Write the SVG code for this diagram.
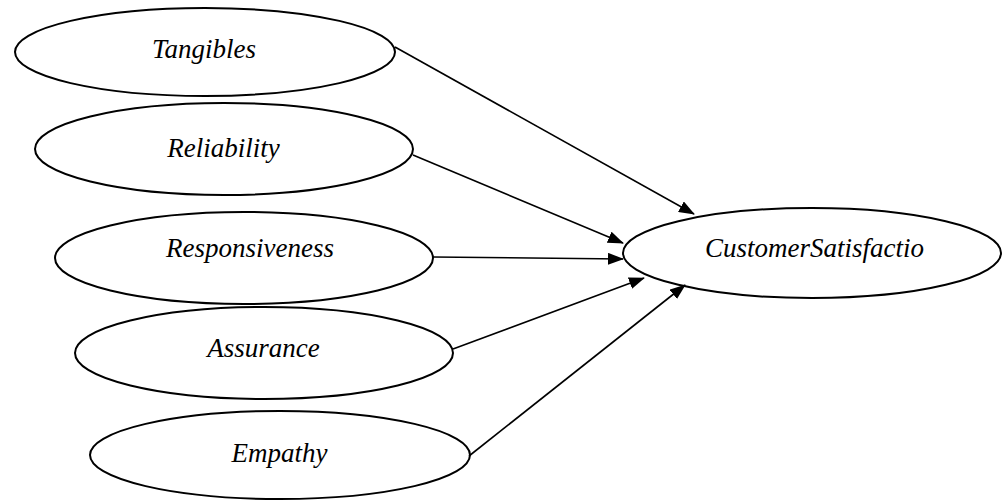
<svg xmlns="http://www.w3.org/2000/svg" width="1002" height="500" viewBox="0 0 1002 500">
<defs>
<style>
.n ellipse{fill:#fff;stroke:#000;stroke-width:2}
.n text{font-family:"Liberation Serif","Times New Roman",serif;font-style:italic;font-size:27px;text-anchor:middle;fill:#000}
.c line{stroke:#000;stroke-width:1.6;marker-end:url(#ah)}
</style>
<marker id="ah" markerWidth="16" markerHeight="12" refX="15" refY="6" orient="auto" markerUnits="userSpaceOnUse">
<path d="M0,0 L16,6 L0,12 Z" fill="#000"/>
</marker>
</defs>
<rect width="1002" height="500" fill="#fff"/>
<g id="tangibles" class="n"><ellipse cx="205" cy="52" rx="190" ry="44"/><text x="204" y="58">Tangibles</text></g>
<g id="reliability" class="n"><ellipse cx="224" cy="149" rx="189" ry="46"/><text x="223.5" y="157">Reliability</text></g>
<g id="responsiveness" class="n"><ellipse cx="244" cy="258" rx="189" ry="46"/><text x="250" y="257">Responsiveness</text></g>
<g id="assurance" class="n"><ellipse cx="264" cy="353" rx="189" ry="46"/><text x="263.5" y="357">Assurance</text></g>
<g id="empathy" class="n"><ellipse cx="280" cy="455" rx="190" ry="44"/><text x="279.5" y="462">Empathy</text></g>
<g id="customersatisfaction" class="n"><ellipse cx="812" cy="253" rx="189" ry="45"/><text x="814.5" y="257">CustomerSatisfactio</text></g>
<g id="connectors" class="c">
<line x1="395" y1="47" x2="694" y2="214"/>
<line x1="413" y1="155" x2="623" y2="243"/>
<line x1="433" y1="257" x2="623" y2="259"/>
<line x1="453" y1="349" x2="644" y2="278"/>
<line x1="469" y1="456" x2="685" y2="285"/>
</g>
</svg>
